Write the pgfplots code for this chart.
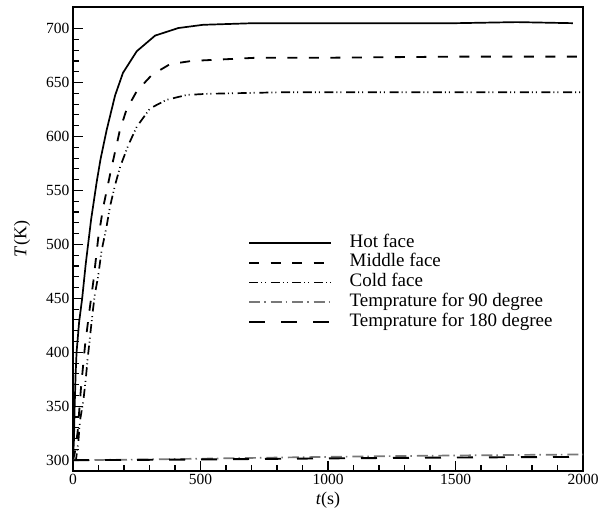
\documentclass[border=0pt]{standalone}
\usepackage{fontspec}
\setmainfont{Liberation Serif}
\usepackage{pgfplots}
\pgfplotsset{compat=1.18}
\definecolor{mygray}{RGB}{120,120,120}
\begin{document}
\begin{tikzpicture}
\begin{axis}[
  name=ax,
  scale only axis,
  width=510pt, height=464pt,
  xmin=0, xmax=2000, ymin=290, ymax=720,
  xtick={0,500,1000,1500,2000},
  ytick={300,350,400,450,500,550,600,650,700},
  minor x tick num=4, minor y tick num=4,
  tick pos=left, tick align=inside,
  major tick length=10pt, minor tick length=6pt,
  every major tick/.style={line width=1.5pt, black},
  every minor tick/.style={line width=1.1pt, black},
  axis line style={line width=2pt},
  /pgf/number format/assume math mode=true,
  /pgf/number format/1000 sep={},
  tick label style={font=\fontsize{15.5}{18}\selectfont},
  xlabel={\textit{t}(s)}, ylabel={\textit{T}(K)},
  every axis x label/.style={at={(axis description cs:0.5,-0.0625)}, anchor=center, font=\fontsize{18}{20}\selectfont},
  every axis y label/.style={at={(axis description cs:-0.1,0.5)}, rotate=90, anchor=center, font=\fontsize{18}{20}\selectfont},
  legend cell align=left,
  legend image code/.code={\draw[#1] (0pt,0pt) -- (82pt,0pt);},
  legend style={at={(0.343,0.513)}, anchor=north west, draw=none, fill=none,
    inner sep=0pt, row sep=0pt, column sep=0pt,
    font=\fontsize{19}{21}\selectfont,
    nodes={inner sep=1.6pt, text height=12.5pt, text depth=4pt},
    /tikz/every odd column/.append style={column sep=16pt}},
]
\addplot[black, line width=1.7pt] coordinates {
(0,300) (4,320) (6,345) (10,378) (14,400) (24,428) (36,450) (50,482) (71,523) (93,558) (108,579) (132,606) (165,638) (196,659) (250,679) (322,693.5) (413,700.5) (510,703.5) (707,705) (1000,705) (1300,705) (1500,705) (1740,706) (1960,705)};
\addlegendentry{Hot face}
\addplot[black, line width=1.8pt, dash pattern=on 10pt off 11.5pt] coordinates {
(0,300) (8,308) (18,326) (31,366) (47,406) (63,436) (80,466) (99,506) (119,535) (150,570) (184,606) (210,625) (250,642) (309,657) (380,667) (465,670) (550,671) (720,673) (1000,673) (1500,674) (2000,674)};
\addlegendentry{Middle face}
\addplot[black, line width=1.7pt, dash pattern=on 9pt off 3pt on 1pt off 3pt on 1pt off 4.7pt] coordinates {
(0,300) (12,301) (21,317) (27,336) (41,356) (50,375) (57,393) (67,415) (76,435) (86,454) (99,471) (112,494) (132,517) (145,535) (165,555) (185,572) (217,592) (250,609) (302,626) (367,634) (446,638.5) (524,639.5) (616,640) (825,641) (1200,641) (2000,641)};
\addlegendentry{Cold face}
\addplot[mygray, line width=1.7pt, dash pattern=on 11pt off 4pt on 1.5pt off 5pt] coordinates {
(0,300) (250,300.6) (500,301.4) (750,302.3) (1000,303.1) (1250,303.8) (1500,304.4) (1750,304.9) (2000,305.3)};
\addlegendentry{Temprature for 90 degree}
\addplot[black, line width=1.9pt, dash pattern=on 16pt off 16pt] coordinates {
(0,300) (250,300.3) (500,300.7) (750,301.2) (1000,301.7) (1250,302.1) (1500,302.5) (1750,302.8) (2000,303.1)};
\addlegendentry{Temprature for 180 degree}
\end{axis}
\path ([xshift=-73pt,yshift=-40pt]ax.south west) rectangle ([xshift=23pt,yshift=7pt]ax.north east);
\end{tikzpicture}
\end{document}
